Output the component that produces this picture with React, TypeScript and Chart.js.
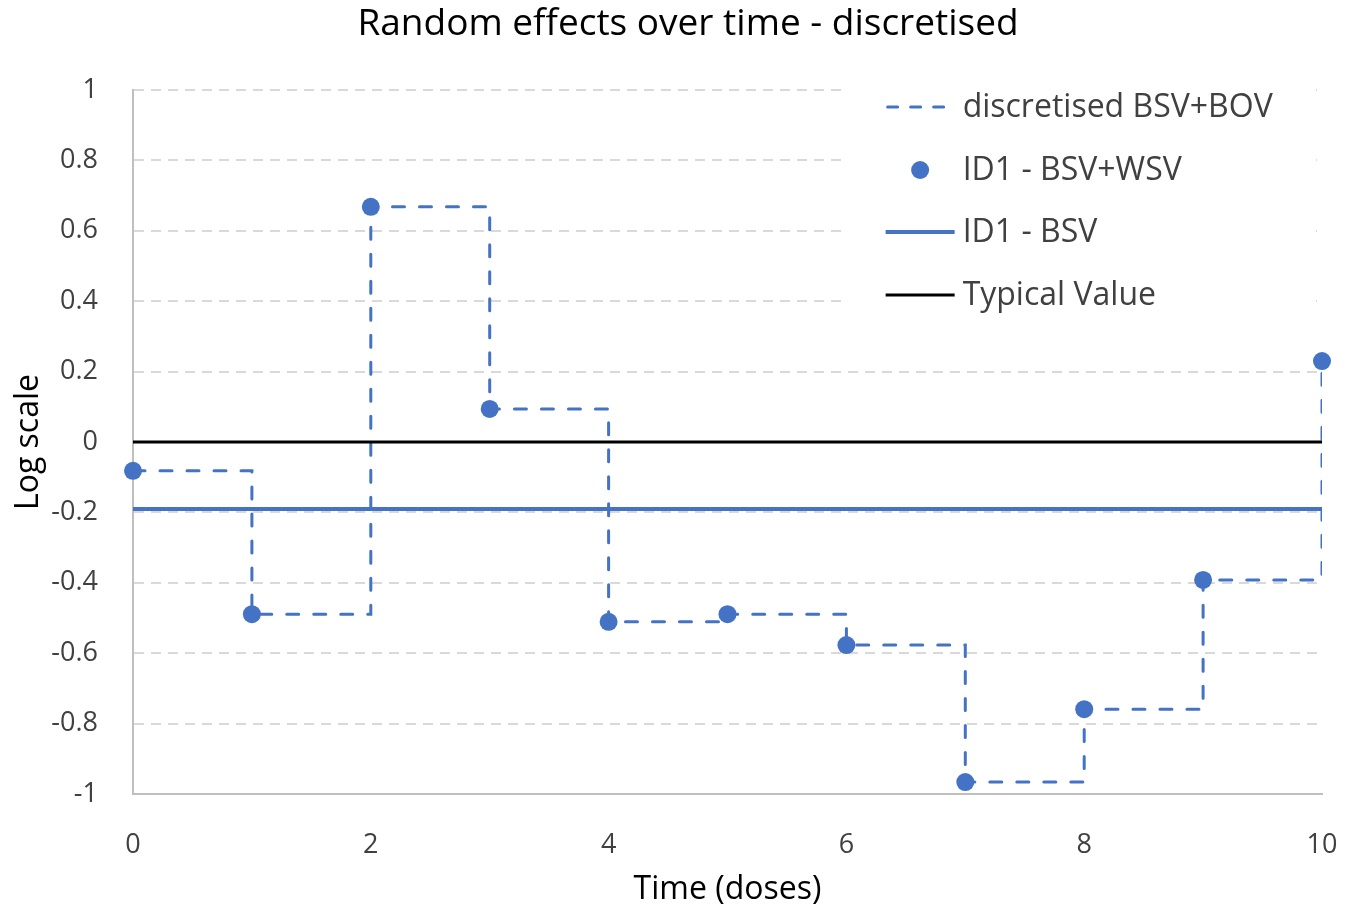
import React, { useEffect, useRef } from "react";
import { Chart, registerables } from "chart.js";

Chart.register(...registerables);

// Dose index and random-effect values on the log scale
const doses = [0, 1, 2, 3, 4, 5, 6, 7, 8, 9, 10];
const bsvWsv = [-0.082, -0.489, 0.668, 0.094, -0.511, -0.489, -0.577, -0.966, -0.759, -0.392, 0.23];
const bsvLevel = -0.19;
const typicalLevel = 0;
const yTicks = [-1, -0.8, -0.6, -0.4, -0.2, 0, 0.2, 0.4, 0.6, 0.8, 1];
const xTicks = [0, 2, 4, 6, 8, 10];

const seriesNames = ["discretised BSV+BOV", "ID1 - BSV+WSV", "ID1 - BSV", "Typical Value"];

const BLUE = "#4472C4";
const FONT = "'Open Sans', Lato, sans-serif";
const TEXT = "#404040";

// Legend drawn on a white box inside the plot area, top right
const legendPlugin = {
  id: "insideLegend",
  afterDatasetsDraw(chart: any) {
    const { ctx, chartArea } = chart;
    const x0 = chartArea.left + (chartArea.right - chartArea.left) * 0.633;
    const lineLen = 69;
    const rows = [107, 170, 232, 295];
    ctx.save();
    ctx.fillStyle = "#FFFFFF";
    ctx.fillRect(x0 - 42, chartArea.top - 12, chartArea.right - 6 - (x0 - 42), 244);
    ctx.font = `32px ${FONT}`;
    ctx.fillStyle = TEXT;
    ctx.textBaseline = "middle";
    ctx.textAlign = "left";
    seriesNames.forEach((name, i) => {
      const y = rows[i];
      ctx.save();
      if (i === 0) {
        ctx.strokeStyle = BLUE;
        ctx.lineWidth = 3;
        ctx.lineCap = "round";
        ctx.setLineDash([10, 13]);
        ctx.beginPath();
        ctx.moveTo(x0 + 2, y);
        ctx.lineTo(x0 + lineLen, y);
        ctx.stroke();
      } else if (i === 1) {
        ctx.fillStyle = BLUE;
        ctx.beginPath();
        ctx.arc(x0 + lineLen / 2, y, 9, 0, Math.PI * 2);
        ctx.fill();
      } else {
        ctx.strokeStyle = i === 2 ? BLUE : "#000000";
        ctx.lineWidth = i === 2 ? 4 : 3;
        ctx.beginPath();
        ctx.moveTo(x0, y);
        ctx.lineTo(x0 + lineLen, y);
        ctx.stroke();
      }
      ctx.restore();
      ctx.fillText(name, x0 + lineLen + 8, y + 1);
    });
    ctx.restore();
  },
};

const titlePlugin = {
  id: "topTitle",
  afterDraw(chart: any) {
    const { ctx } = chart;
    ctx.save();
    ctx.font = `37px ${FONT}`;
    ctx.fillStyle = "#000000";
    ctx.textAlign = "center";
    ctx.textBaseline = "middle";
    ctx.fillText("Random effects over time - discretised", 688, 24);
    ctx.restore();
  },
};

export default function App() {
  const canvasRef = useRef<HTMLCanvasElement | null>(null);

  useEffect(() => {
    document.body.style.margin = "0";
    const canvas = canvasRef.current;
    if (!canvas) return;

    const stepPoints = doses.map((d, i) => ({ x: d, y: bsvWsv[i] }));
    const span = [doses[0], doses[doses.length - 1]];

    const chart = new Chart(canvas, {
      type: "line",
      data: {
        datasets: [
          {
            label: seriesNames[3],
            data: span.map((x) => ({ x, y: typicalLevel })),
            borderColor: "#000000",
            borderWidth: 3,
            pointRadius: 0,
          },
          {
            label: seriesNames[2],
            data: span.map((x) => ({ x, y: bsvLevel })),
            borderColor: BLUE,
            borderWidth: 4,
            pointRadius: 0,
          },
          {
            label: seriesNames[0],
            data: stepPoints,
            stepped: "before",
            borderColor: BLUE,
            borderWidth: 3,
            borderDash: [12, 15],
            borderCapStyle: "round",
            pointRadius: 0,
          },
          {
            label: seriesNames[1],
            data: stepPoints,
            showLine: false,
            clip: false,
            pointRadius: 9,
            pointBackgroundColor: BLUE,
            pointBorderWidth: 0,
            pointBorderColor: BLUE,
          },
        ],
      },
      options: {
        animation: false,
        responsive: false,
        maintainAspectRatio: false,
        layout: { padding: { top: 90, right: 25, left: 0, bottom: 0 } },
        plugins: {
          legend: { display: false },
          title: { display: false },
          tooltip: { enabled: false },
        },
        scales: {
          x: {
            type: "linear",
            min: 0,
            max: 10,
            afterBuildTicks: (scale: any) => {
              scale.ticks = xTicks.map((v) => ({ value: v }));
            },
            afterFit: (scale: any) => {
              scale.height = 116;
              scale.paddingLeft = 0;
              scale.paddingRight = 0;
            },
            grid: { display: false, drawTicks: false },
            border: { display: true, color: "#BFBFBF", width: 2 },
            ticks: {
              padding: 35,
              maxRotation: 0,
              color: TEXT,
              font: { family: FONT, size: 27 },
              callback: (v: any) => String(v),
            },
            title: {
              display: true,
              text: "Time (doses)",
              color: "#000000",
              font: { family: FONT, size: 32 },
              padding: { top: 0, bottom: 1 },
            },
          },
          y: {
            type: "linear",
            min: -1,
            max: 1,
            afterBuildTicks: (scale: any) => {
              scale.ticks = yTicks.map((v) => ({ value: v }));
            },
            afterFit: (scale: any) => {
              scale.width = 133;
            },
            grid: {
              color: "#D9D9D9",
              lineWidth: 2,
              drawTicks: false,
            },
            border: { display: true, color: "#BFBFBF", width: 2, dash: [10, 7] },
            ticks: {
              padding: 35,
              color: TEXT,
              font: { family: FONT, size: 27 },
              callback: (v: any) => {
                const r = Math.round(Number(v) * 10) / 10;
                return r === 0 ? "0" : String(r);
              },
            },
            title: {
              display: true,
              text: "Log scale",
              color: "#000000",
              font: { family: FONT, size: 32 },
              padding: { top: 10, bottom: 0 },
            },
          },
        },
      },
      plugins: [legendPlugin, titlePlugin],
    } as any);

    return () => chart.destroy();
  }, []);

  return (
    <div style={{ width: 1347, height: 910 }}>
      <canvas ref={canvasRef} width={1347} height={910} style={{ display: "block" }} />
    </div>
  );
}
